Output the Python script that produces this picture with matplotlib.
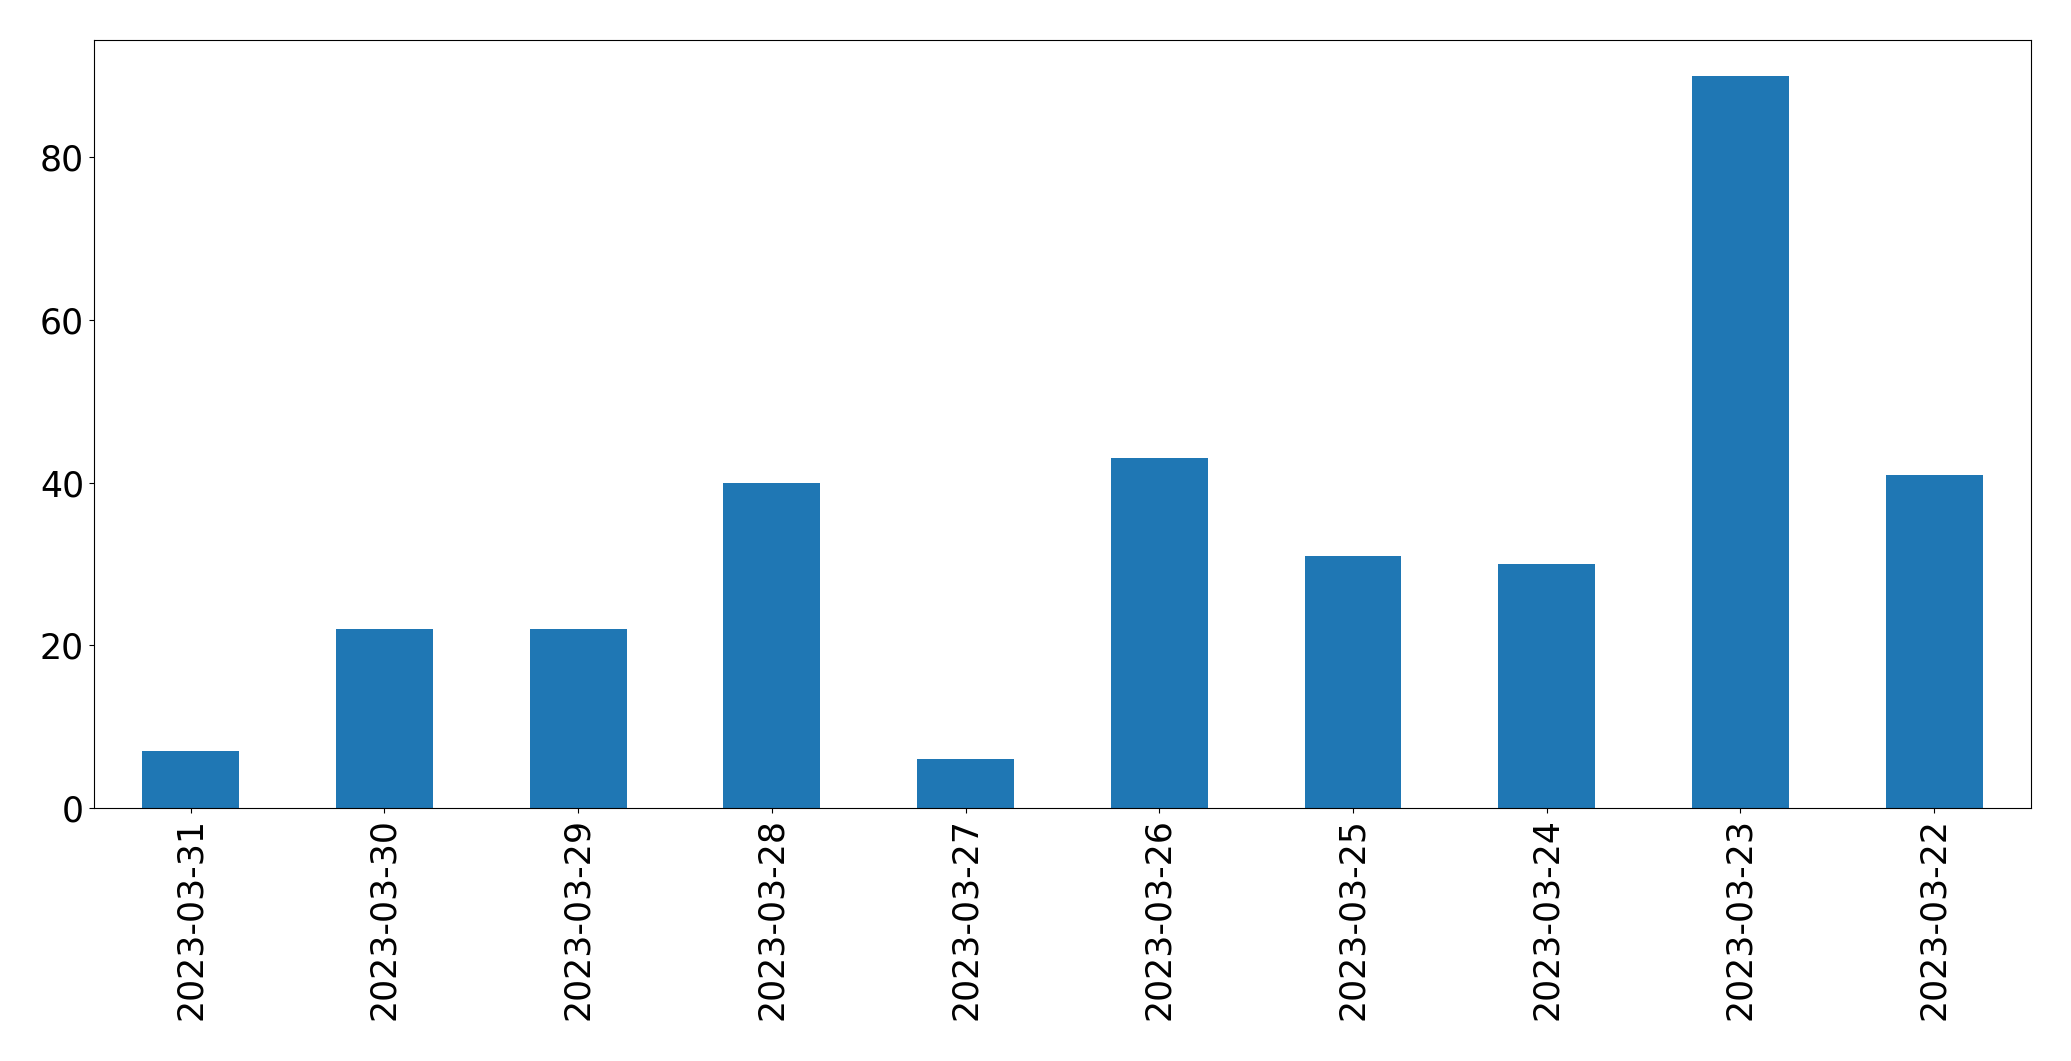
import matplotlib
matplotlib.use("Agg")
import matplotlib.pyplot as plt
import pandas as pd

dates = ["2023-03-31", "2023-03-30", "2023-03-29", "2023-03-28", "2023-03-27",
         "2023-03-26", "2023-03-25", "2023-03-24", "2023-03-23", "2023-03-22"]
counts = [7, 22, 22, 40, 6, 43, 31, 30, 90, 41]

fig = plt.figure(figsize=(20.71, 10.61), dpi=100)
ax = fig.add_axes([0.0453, 0.2384, 0.9354, 0.7243])
s = pd.Series(counts, index=dates)
s.plot(kind="bar", ax=ax, color="#1f77b4", width=0.5)
ax.tick_params(axis="both", labelsize=25)
ax.set_xlabel("")
fig.savefig("out.png", dpi=100)
